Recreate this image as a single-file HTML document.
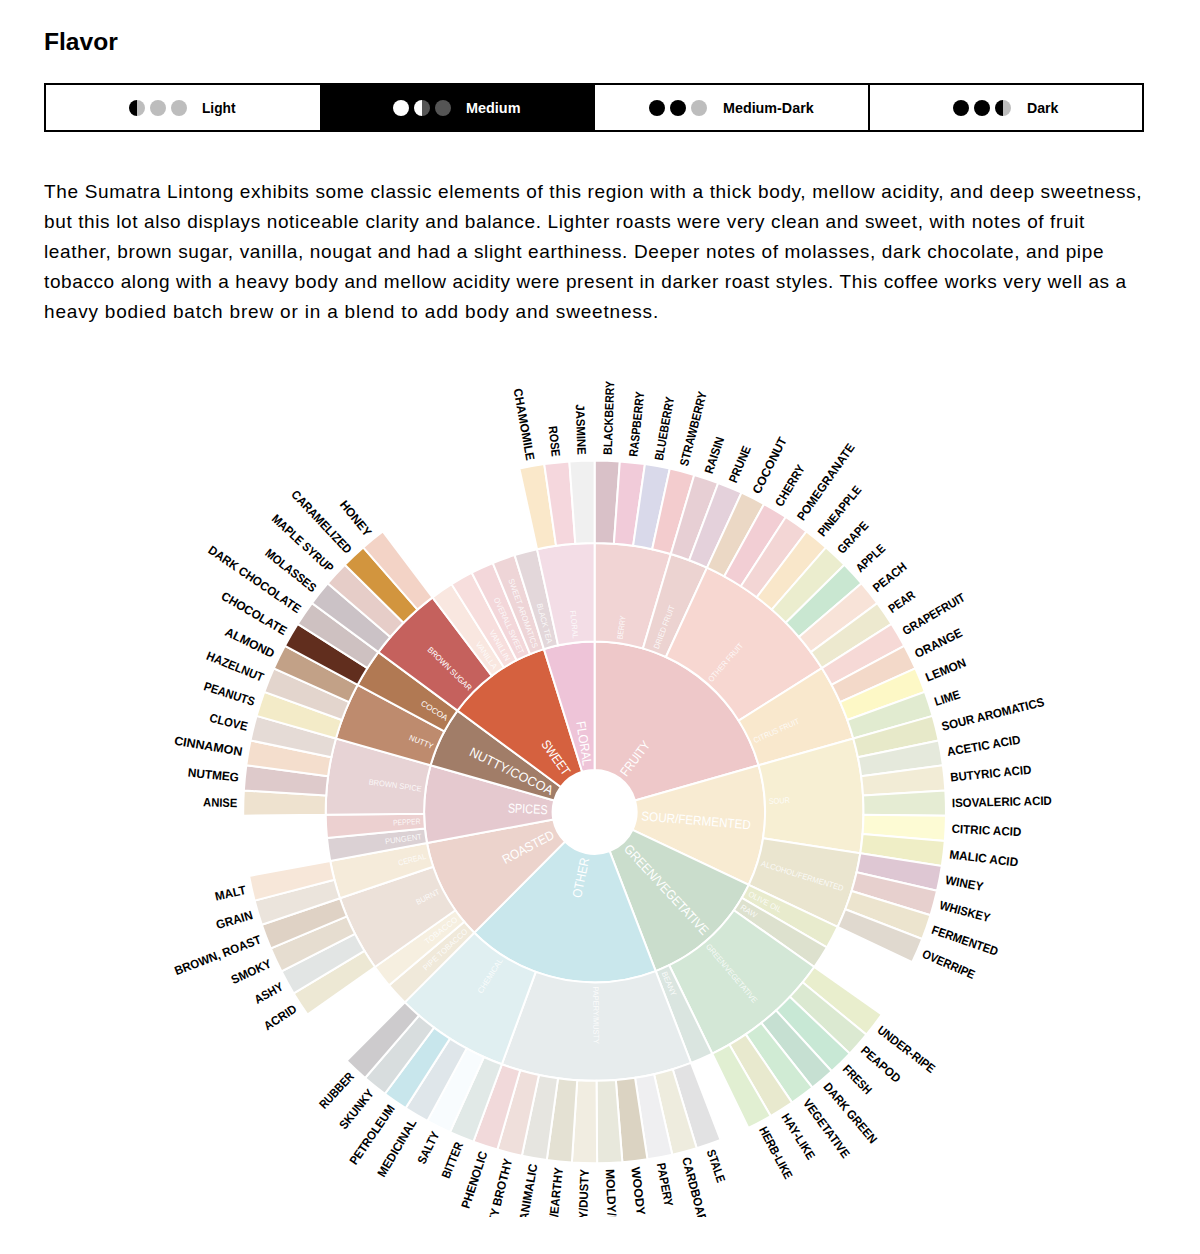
<!DOCTYPE html>
<html><head><meta charset="utf-8"><title>Flavor</title>
<style>
html,body{margin:0;padding:0;background:#fff;}
body{width:1200px;height:1254px;position:relative;overflow:hidden;font-family:"Liberation Sans",sans-serif;color:#000;}
h2{position:absolute;left:44px;top:26.7px;margin:0;font-size:24.6px;line-height:30px;font-weight:bold;letter-spacing:0;}
.tabs{position:absolute;left:44px;top:83px;width:1096px;height:44.5px;border:2px solid #000;}
i.dot{position:absolute;display:block;width:16px;height:16px;border-radius:50%;top:100px;}
.act{position:absolute;left:319.5px;top:83px;width:275.5px;height:48.5px;background:#000;}
.div{position:absolute;top:83px;width:2px;height:48.5px;background:#000;}
.lbl{position:absolute;top:99px;line-height:18px;font-weight:bold;font-size:14px;white-space:nowrap;transform-origin:0 50%;}
.para div{position:absolute;left:44px;font-size:19px;line-height:30px;height:30px;white-space:nowrap;}
.wheel{position:absolute;left:0;top:340px;overflow:hidden;}
</style></head><body>
<h2>Flavor</h2>
<div class="tabs"></div><i class="dot" style="left:129.00px;background:linear-gradient(90deg,#000 52%,#bdbdbd 52%)"></i><i class="dot" style="left:150.00px;background:#bdbdbd"></i><i class="dot" style="left:171.00px;background:#bdbdbd"></i><span class="lbl" style="left:202.30px;color:#000;transform:scaleX(0.9793)">Light</span><div class="act"></div><i class="dot" style="left:392.75px;background:#fff"></i><i class="dot" style="left:413.75px;background:linear-gradient(90deg,#fff 52%,#555 52%)"></i><i class="dot" style="left:434.75px;background:#555"></i><span class="lbl" style="left:465.80px;color:#fff;transform:scaleX(1.0304)">Medium</span><i class="dot" style="left:648.75px;background:#000"></i><i class="dot" style="left:669.75px;background:#000"></i><i class="dot" style="left:691.00px;background:#bdbdbd"></i><span class="lbl" style="left:722.80px;color:#000;transform:scaleX(1.0227)">Medium-Dark</span><i class="dot" style="left:952.50px;background:#000"></i><i class="dot" style="left:973.50px;background:#000"></i><i class="dot" style="left:994.75px;background:linear-gradient(90deg,#000 52%,#bdbdbd 52%)"></i><span class="lbl" style="left:1026.80px;color:#000;transform:scaleX(1.0118)">Dark</span><div class="div" style="left:868.25px"></div>
<div class="para"><div style="top:177.00px;letter-spacing:0.6556px">The Sumatra Lintong exhibits some classic elements of this region with a thick body, mellow acidity, and deep sweetness,</div><div style="top:207.00px;letter-spacing:0.6213px">but this lot also displays noticeable clarity and balance. Lighter roasts were very clean and sweet, with notes of fruit</div><div style="top:237.00px;letter-spacing:0.6381px">leather, brown sugar, vanilla, nougat and had a slight earthiness. Deeper notes of molasses, dark chocolate, and pipe</div><div style="top:267.00px;letter-spacing:0.6070px">tobacco along with a heavy body and mellow acidity were present in darker roast styles. This coffee works very well as a</div><div style="top:297.00px;letter-spacing:0.8126px">heavy bodied batch brew or in a blend to add body and sweetness.</div></div>
<svg class="wheel" width="1200" height="876.5" viewBox="0 0 1200 876.5"><g transform="translate(0 -340.0)" stroke="#fff" stroke-width="2.00" stroke-linejoin="miter"><path d="M594.60 769.90L594.60 641.40A170.50 170.50 0 0 1 758.61 765.31L635.00 800.42A42.00 42.00 0 0 0 594.60 769.90Z" fill="#eec8c9"/><path d="M594.60 641.40L594.60 543.00A268.90 268.90 0 0 1 670.86 554.04L642.96 648.40A170.50 170.50 0 0 0 594.60 641.40Z" fill="#f1d4d4"/><path d="M594.60 543.00L594.60 460.50A351.40 351.40 0 0 1 619.84 461.41L613.91 543.69A268.90 268.90 0 0 0 594.60 543.00Z" fill="#d9c1c8"/><path d="M613.91 543.69L619.84 461.41A351.40 351.40 0 0 1 644.95 464.13L633.13 545.77A268.90 268.90 0 0 0 613.91 543.69Z" fill="#f1cbd9"/><path d="M633.13 545.77L644.95 464.13A351.40 351.40 0 0 1 669.80 468.64L652.15 549.23A268.90 268.90 0 0 0 633.13 545.77Z" fill="#d9d9ea"/><path d="M652.15 549.23L669.80 468.64A351.40 351.40 0 0 1 694.26 474.93L670.86 554.04A268.90 268.90 0 0 0 652.15 549.23Z" fill="#f3ccce"/><path d="M642.96 648.40L670.86 554.04A268.90 268.90 0 0 1 707.02 567.63L665.88 657.02A170.50 170.50 0 0 0 642.96 648.40Z" fill="#ecd3d1"/><path d="M670.86 554.04L694.26 474.93A351.40 351.40 0 0 1 718.21 482.96L689.19 560.19A268.90 268.90 0 0 0 670.86 554.04Z" fill="#e7cfd4"/><path d="M689.19 560.19L718.21 482.96A351.40 351.40 0 0 1 741.52 492.69L707.02 567.63A268.90 268.90 0 0 0 689.19 560.19Z" fill="#e4d1db"/><path d="M665.88 657.02L707.02 567.63A268.90 268.90 0 0 1 821.81 668.08L738.66 720.71A170.50 170.50 0 0 0 665.88 657.02Z" fill="#f7d7d1"/><path d="M707.02 567.63L741.52 492.69A351.40 351.40 0 0 1 764.07 504.06L724.28 576.34A268.90 268.90 0 0 0 707.02 567.63Z" fill="#ebd8c5"/><path d="M724.28 576.34L764.07 504.06A351.40 351.40 0 0 1 785.74 517.03L740.86 586.26A268.90 268.90 0 0 0 724.28 576.34Z" fill="#f2ced4"/><path d="M740.86 586.26L785.74 517.03A351.40 351.40 0 0 1 806.43 531.52L756.69 597.35A268.90 268.90 0 0 0 740.86 586.26Z" fill="#f3d6d5"/><path d="M756.69 597.35L806.43 531.52A351.40 351.40 0 0 1 826.02 547.46L771.69 609.54A268.90 268.90 0 0 0 756.69 597.35Z" fill="#f9e7ca"/><path d="M771.69 609.54L826.02 547.46A351.40 351.40 0 0 1 844.41 564.77L785.76 622.79A268.90 268.90 0 0 0 771.69 609.54Z" fill="#ebedce"/><path d="M785.76 622.79L844.41 564.77A351.40 351.40 0 0 1 861.52 583.35L798.85 637.01A268.90 268.90 0 0 0 785.76 622.79Z" fill="#c9e7d1"/><path d="M798.85 637.01L861.52 583.35A351.40 351.40 0 0 1 877.25 603.11L810.89 652.13A268.90 268.90 0 0 0 798.85 637.01Z" fill="#f8e3d8"/><path d="M810.89 652.13L877.25 603.11A351.40 351.40 0 0 1 891.51 623.95L821.81 668.08A268.90 268.90 0 0 0 810.89 652.13Z" fill="#ede9cf"/><path d="M738.66 720.71L821.81 668.08A268.90 268.90 0 0 1 853.27 738.42L758.61 765.31A170.50 170.50 0 0 0 738.66 720.71Z" fill="#f9e8cd"/><path d="M821.81 668.08L891.51 623.95A351.40 351.40 0 0 1 904.25 645.76L831.55 684.77A268.90 268.90 0 0 0 821.81 668.08Z" fill="#f6d9d6"/><path d="M831.55 684.77L904.25 645.76A351.40 351.40 0 0 1 915.38 668.43L840.07 702.12A268.90 268.90 0 0 0 831.55 684.77Z" fill="#f3d9c9"/><path d="M840.07 702.12L915.38 668.43A351.40 351.40 0 0 1 924.86 691.85L847.32 720.03A268.90 268.90 0 0 0 840.07 702.12Z" fill="#fdf8c6"/><path d="M847.32 720.03L924.86 691.85A351.40 351.40 0 0 1 932.63 715.88L853.27 738.42A268.90 268.90 0 0 0 847.32 720.03Z" fill="#e1ebd0"/><path d="M635.00 800.42L758.61 765.31A170.50 170.50 0 0 1 748.71 884.85L632.56 829.87A42.00 42.00 0 0 0 635.00 800.42Z" fill="#f8ebd2"/><path d="M758.61 765.31L853.27 738.42A268.90 268.90 0 0 1 860.29 853.30L763.07 838.15A170.50 170.50 0 0 0 758.61 765.31Z" fill="#f7efd3"/><path d="M853.27 738.42L932.63 715.88A351.40 351.40 0 0 1 938.65 740.41L857.88 757.19A268.90 268.90 0 0 0 853.27 738.42Z" fill="#e7e9c9"/><path d="M857.88 757.19L938.65 740.41A351.40 351.40 0 0 1 942.90 765.30L861.13 776.24A268.90 268.90 0 0 0 857.88 757.19Z" fill="#e5e9dc"/><path d="M861.13 776.24L942.90 765.30A351.40 351.40 0 0 1 945.34 790.44L863.00 795.48A268.90 268.90 0 0 0 861.13 776.24Z" fill="#f2ecd6"/><path d="M863.00 795.48L945.34 790.44A351.40 351.40 0 0 1 945.98 815.69L863.48 814.80A268.90 268.90 0 0 0 863.00 795.48Z" fill="#e5ecd3"/><path d="M863.48 814.80L945.98 815.69A351.40 351.40 0 0 1 944.80 840.92L862.58 834.11A268.90 268.90 0 0 0 863.48 814.80Z" fill="#fdfbd4"/><path d="M862.58 834.11L944.80 840.92A351.40 351.40 0 0 1 941.81 866.00L860.29 853.30A268.90 268.90 0 0 0 862.58 834.11Z" fill="#efeec6"/><path d="M763.07 838.15L860.29 853.30A268.90 268.90 0 0 1 837.64 926.95L748.71 884.85A170.50 170.50 0 0 0 763.07 838.15Z" fill="#eae5cf"/><path d="M860.29 853.30L941.81 866.00A351.40 351.40 0 0 1 937.03 890.80L856.63 872.27A268.90 268.90 0 0 0 860.29 853.30Z" fill="#dec7d3"/><path d="M856.63 872.27L937.03 890.80A351.40 351.40 0 0 1 930.48 915.19L851.62 890.94A268.90 268.90 0 0 0 856.63 872.27Z" fill="#e7d0ce"/><path d="M851.62 890.94L930.48 915.19A351.40 351.40 0 0 1 922.19 939.05L845.28 909.20A268.90 268.90 0 0 0 851.62 890.94Z" fill="#ece4ce"/><path d="M845.28 909.20L922.19 939.05A351.40 351.40 0 0 1 912.21 962.25L837.64 926.95A268.90 268.90 0 0 0 845.28 909.20Z" fill="#e0d9cf"/><path d="M632.56 829.87L748.71 884.85A170.50 170.50 0 0 1 655.72 971.07L609.66 851.11A42.00 42.00 0 0 0 632.56 829.87Z" fill="#caddcc"/><path d="M748.71 884.85L837.64 926.95A268.90 268.90 0 0 1 826.83 947.46L741.85 897.86A170.50 170.50 0 0 0 748.71 884.85Z" fill="#e8ebcd"/><path d="M741.85 897.86L826.83 947.46A268.90 268.90 0 0 1 814.28 966.97L733.89 910.22A170.50 170.50 0 0 0 741.85 897.86Z" fill="#dde1ce"/><path d="M733.89 910.22L814.28 966.97A268.90 268.90 0 0 1 712.27 1053.69L669.21 965.21A170.50 170.50 0 0 0 733.89 910.22Z" fill="#d3e7d6"/><path d="M814.28 966.97L881.68 1014.55A351.40 351.40 0 0 1 866.39 1034.64L802.58 982.35A268.90 268.90 0 0 0 814.28 966.97Z" fill="#e9eecd"/><path d="M802.58 982.35L866.39 1034.64A351.40 351.40 0 0 1 849.68 1053.59L789.80 996.85A268.90 268.90 0 0 0 802.58 982.35Z" fill="#dbe9d1"/><path d="M789.80 996.85L849.68 1053.59A351.40 351.40 0 0 1 831.67 1071.29L776.01 1010.39A268.90 268.90 0 0 0 789.80 996.85Z" fill="#c8e8d5"/><path d="M776.01 1010.39L831.67 1071.29A351.40 351.40 0 0 1 812.42 1087.65L761.28 1022.91A268.90 268.90 0 0 0 776.01 1010.39Z" fill="#c6e0d2"/><path d="M761.28 1022.91L812.42 1087.65A351.40 351.40 0 0 1 792.05 1102.58L745.70 1034.33A268.90 268.90 0 0 0 761.28 1022.91Z" fill="#d0ebd4"/><path d="M745.70 1034.33L792.05 1102.58A351.40 351.40 0 0 1 770.66 1116.01L729.33 1044.61A268.90 268.90 0 0 0 745.70 1034.33Z" fill="#e8e9ce"/><path d="M729.33 1044.61L770.66 1116.01A351.40 351.40 0 0 1 748.37 1127.87L712.27 1053.69A268.90 268.90 0 0 0 729.33 1044.61Z" fill="#e1efd2"/><path d="M669.21 965.21L712.27 1053.69A268.90 268.90 0 0 1 691.00 1062.93L655.72 971.07A170.50 170.50 0 0 0 669.21 965.21Z" fill="#dae5e0"/><path d="M609.66 851.11L655.72 971.07A170.50 170.50 0 0 1 474.26 932.68L564.95 841.65A42.00 42.00 0 0 0 609.66 851.11Z" fill="#c9e7ec"/><path d="M655.72 971.07L691.00 1062.93A268.90 268.90 0 0 1 501.82 1064.29L535.77 971.93A170.50 170.50 0 0 0 655.72 971.07Z" fill="#e7eced"/><path d="M691.00 1062.93L720.57 1139.95A351.40 351.40 0 0 1 696.68 1148.15L672.72 1069.20A268.90 268.90 0 0 0 691.00 1062.93Z" fill="#e2e2e3"/><path d="M672.72 1069.20L696.68 1148.15A351.40 351.40 0 0 1 672.27 1154.61L654.03 1074.15A268.90 268.90 0 0 0 672.72 1069.20Z" fill="#eeecde"/><path d="M654.03 1074.15L672.27 1154.61A351.40 351.40 0 0 1 647.45 1159.30L635.04 1077.74A268.90 268.90 0 0 0 654.03 1074.15Z" fill="#efeff1"/><path d="M635.04 1077.74L647.45 1159.30A351.40 351.40 0 0 1 622.36 1162.20L615.84 1079.96A268.90 268.90 0 0 0 635.04 1077.74Z" fill="#dbd3c2"/><path d="M615.84 1079.96L622.36 1162.20A351.40 351.40 0 0 1 597.13 1163.29L596.53 1080.79A268.90 268.90 0 0 0 615.84 1079.96Z" fill="#e8e8dc"/><path d="M596.53 1080.79L597.13 1163.29A351.40 351.40 0 0 1 571.88 1162.56L577.21 1080.24A268.90 268.90 0 0 0 596.53 1080.79Z" fill="#f1ede1"/><path d="M577.21 1080.24L571.88 1162.56A351.40 351.40 0 0 1 546.75 1160.03L557.98 1078.30A268.90 268.90 0 0 0 577.21 1080.24Z" fill="#e4e1d3"/><path d="M557.98 1078.30L546.75 1160.03A351.40 351.40 0 0 1 521.87 1155.69L538.94 1074.98A268.90 268.90 0 0 0 557.98 1078.30Z" fill="#e6e5e0"/><path d="M538.94 1074.98L521.87 1155.69A351.40 351.40 0 0 1 497.36 1149.58L520.19 1070.30A268.90 268.90 0 0 0 538.94 1074.98Z" fill="#efdfdb"/><path d="M520.19 1070.30L497.36 1149.58A351.40 351.40 0 0 1 473.36 1141.72L501.82 1064.29A268.90 268.90 0 0 0 520.19 1070.30Z" fill="#f1d9da"/><path d="M535.77 971.93L501.82 1064.29A268.90 268.90 0 0 1 404.80 1002.38L474.26 932.68A170.50 170.50 0 0 0 535.77 971.93Z" fill="#e0eff1"/><path d="M501.82 1064.29L473.36 1141.72A351.40 351.40 0 0 1 449.98 1132.16L483.93 1056.97A268.90 268.90 0 0 0 501.82 1064.29Z" fill="#e1e9e7"/><path d="M483.93 1056.97L449.98 1132.16A351.40 351.40 0 0 1 427.35 1120.95L466.62 1048.39A268.90 268.90 0 0 0 483.93 1056.97Z" fill="#f8fcfe"/><path d="M466.62 1048.39L427.35 1120.95A351.40 351.40 0 0 1 405.59 1108.14L449.96 1038.59A268.90 268.90 0 0 0 466.62 1048.39Z" fill="#dfe6ea"/><path d="M449.96 1038.59L405.59 1108.14A351.40 351.40 0 0 1 384.80 1093.79L434.05 1027.61A268.90 268.90 0 0 0 449.96 1038.59Z" fill="#c8e6ec"/><path d="M434.05 1027.61L384.80 1093.79A351.40 351.40 0 0 1 365.09 1078.00L418.97 1015.52A268.90 268.90 0 0 0 434.05 1027.61Z" fill="#d8ddde"/><path d="M418.97 1015.52L365.09 1078.00A351.40 351.40 0 0 1 346.57 1060.82L404.80 1002.38A268.90 268.90 0 0 0 418.97 1015.52Z" fill="#cdcbcd"/><path d="M564.95 841.65L474.26 932.68A170.50 170.50 0 0 1 426.96 842.98L553.30 819.56A42.00 42.00 0 0 0 564.95 841.65Z" fill="#ecd3cc"/><path d="M474.26 932.68L404.80 1002.38A268.90 268.90 0 0 1 389.09 985.32L464.30 921.86A170.50 170.50 0 0 0 474.26 932.68Z" fill="#f0e9da"/><path d="M464.30 921.86L389.09 985.32A268.90 268.90 0 0 1 374.92 966.97L455.31 910.22A170.50 170.50 0 0 0 464.30 921.86Z" fill="#f6efe0"/><path d="M455.31 910.22L374.92 966.97A268.90 268.90 0 0 1 339.96 898.30L433.14 866.68A170.50 170.50 0 0 0 455.31 910.22Z" fill="#ece1d9"/><path d="M374.92 966.97L307.52 1014.55A351.40 351.40 0 0 1 293.70 993.40L364.35 950.79A268.90 268.90 0 0 0 374.92 966.97Z" fill="#ede8d4"/><path d="M364.35 950.79L293.70 993.40A351.40 351.40 0 0 1 281.44 971.32L354.96 933.89A268.90 268.90 0 0 0 364.35 950.79Z" fill="#e2e5e4"/><path d="M354.96 933.89L281.44 971.32A351.40 351.40 0 0 1 270.80 948.41L346.82 916.36A268.90 268.90 0 0 0 354.96 933.89Z" fill="#e6ddd0"/><path d="M346.82 916.36L270.80 948.41A351.40 351.40 0 0 1 261.83 924.80L339.96 898.30A268.90 268.90 0 0 0 346.82 916.36Z" fill="#dfd2c5"/><path d="M433.14 866.68L339.96 898.30A268.90 268.90 0 0 1 330.21 860.92L426.96 842.98A170.50 170.50 0 0 0 433.14 866.68Z" fill="#f5ebda"/><path d="M339.96 898.30L261.83 924.80A351.40 351.40 0 0 1 254.58 900.61L334.41 879.78A268.90 268.90 0 0 0 339.96 898.30Z" fill="#ebe4dc"/><path d="M334.41 879.78L254.58 900.61A351.40 351.40 0 0 1 249.09 875.96L330.21 860.92A268.90 268.90 0 0 0 334.41 879.78Z" fill="#f7e7d9"/><path d="M553.30 819.56L426.96 842.98A170.50 170.50 0 0 1 430.59 765.31L554.20 800.42A42.00 42.00 0 0 0 553.30 819.56Z" fill="#e5c9cf"/><path d="M426.96 842.98L330.21 860.92A268.90 268.90 0 0 1 326.97 837.96L424.90 828.42A170.50 170.50 0 0 0 426.96 842.98Z" fill="#dbd1d4"/><path d="M424.90 828.42L326.97 837.96A268.90 268.90 0 0 1 325.72 814.80L424.11 813.74A170.50 170.50 0 0 0 424.90 828.42Z" fill="#ecd0d0"/><path d="M424.11 813.74L325.72 814.80A268.90 268.90 0 0 1 335.93 738.42L430.59 765.31A170.50 170.50 0 0 0 424.11 813.74Z" fill="#e7d3d5"/><path d="M325.72 814.80L243.22 815.69A351.40 351.40 0 0 1 243.86 790.44L326.20 795.48A268.90 268.90 0 0 0 325.72 814.80Z" fill="#eee2cf"/><path d="M326.20 795.48L243.86 790.44A351.40 351.40 0 0 1 246.30 765.30L328.07 776.24A268.90 268.90 0 0 0 326.20 795.48Z" fill="#decacb"/><path d="M328.07 776.24L246.30 765.30A351.40 351.40 0 0 1 250.55 740.41L331.32 757.19A268.90 268.90 0 0 0 328.07 776.24Z" fill="#f4decd"/><path d="M331.32 757.19L250.55 740.41A351.40 351.40 0 0 1 256.57 715.88L335.93 738.42A268.90 268.90 0 0 0 331.32 757.19Z" fill="#e5dbd6"/><path d="M554.20 800.42L430.59 765.31A170.50 170.50 0 0 1 457.46 710.59L560.82 786.95A42.00 42.00 0 0 0 554.20 800.42Z" fill="#a17d68"/><path d="M430.59 765.31L335.93 738.42A268.90 268.90 0 0 1 357.65 684.77L444.36 731.29A170.50 170.50 0 0 0 430.59 765.31Z" fill="#be8b6e"/><path d="M335.93 738.42L256.57 715.88A351.40 351.40 0 0 1 264.34 691.85L341.88 720.03A268.90 268.90 0 0 0 335.93 738.42Z" fill="#f3ebc8"/><path d="M341.88 720.03L264.34 691.85A351.40 351.40 0 0 1 273.82 668.43L349.13 702.12A268.90 268.90 0 0 0 341.88 720.03Z" fill="#e3d5cd"/><path d="M349.13 702.12L273.82 668.43A351.40 351.40 0 0 1 284.95 645.76L357.65 684.77A268.90 268.90 0 0 0 349.13 702.12Z" fill="#c2a187"/><path d="M444.36 731.29L357.65 684.77A268.90 268.90 0 0 1 378.31 652.13L457.46 710.59A170.50 170.50 0 0 0 444.36 731.29Z" fill="#b17953"/><path d="M357.65 684.77L284.95 645.76A351.40 351.40 0 0 1 297.69 623.95L367.39 668.08A268.90 268.90 0 0 0 357.65 684.77Z" fill="#612e1e"/><path d="M367.39 668.08L297.69 623.95A351.40 351.40 0 0 1 311.95 603.11L378.31 652.13A268.90 268.90 0 0 0 367.39 668.08Z" fill="#cec1c1"/><path d="M560.82 786.95L457.46 710.59A170.50 170.50 0 0 1 543.90 649.11L582.11 771.80A42.00 42.00 0 0 0 560.82 786.95Z" fill="#d5613f"/><path d="M457.46 710.59L378.31 652.13A268.90 268.90 0 0 1 432.51 597.35L491.82 675.86A170.50 170.50 0 0 0 457.46 710.59Z" fill="#c5615d"/><path d="M378.31 652.13L311.95 603.11A351.40 351.40 0 0 1 327.68 583.35L390.35 637.01A268.90 268.90 0 0 0 378.31 652.13Z" fill="#cbc2c6"/><path d="M390.35 637.01L327.68 583.35A351.40 351.40 0 0 1 344.79 564.77L403.44 622.79A268.90 268.90 0 0 0 390.35 637.01Z" fill="#e6cdc8"/><path d="M403.44 622.79L344.79 564.77A351.40 351.40 0 0 1 363.18 547.46L417.51 609.54A268.90 268.90 0 0 0 403.44 622.79Z" fill="#d2953e"/><path d="M417.51 609.54L363.18 547.46A351.40 351.40 0 0 1 382.77 531.52L432.51 597.35A268.90 268.90 0 0 0 417.51 609.54Z" fill="#f3d3c6"/><path d="M491.82 675.86L432.51 597.35A268.90 268.90 0 0 1 451.60 584.18L503.93 667.51A170.50 170.50 0 0 0 491.82 675.86Z" fill="#f9e7e0"/><path d="M503.93 667.51L451.60 584.18A268.90 268.90 0 0 1 471.75 572.70L516.70 660.23A170.50 170.50 0 0 0 503.93 667.51Z" fill="#f7dedd"/><path d="M516.70 660.23L471.75 572.70A268.90 268.90 0 0 1 492.81 563.01L530.06 654.09A170.50 170.50 0 0 0 516.70 660.23Z" fill="#f3d7da"/><path d="M530.06 654.09L492.81 563.01A268.90 268.90 0 0 1 514.64 555.16L543.90 649.11A170.50 170.50 0 0 0 530.06 654.09Z" fill="#eed5d7"/><path d="M582.11 771.80L543.90 649.11A170.50 170.50 0 0 1 594.60 641.40L594.60 769.90A42.00 42.00 0 0 0 582.11 771.80Z" fill="#eec4d8"/><path d="M543.90 649.11L514.64 555.16A268.90 268.90 0 0 1 537.05 549.23L558.11 645.35A170.50 170.50 0 0 0 543.90 649.11Z" fill="#e3d7da"/><path d="M558.11 645.35L537.05 549.23A268.90 268.90 0 0 1 594.60 543.00L594.60 641.40A170.50 170.50 0 0 0 558.11 645.35Z" fill="#f3dde6"/><path d="M537.05 549.23L519.40 468.64A351.40 351.40 0 0 1 544.25 464.13L556.07 545.77A268.90 268.90 0 0 0 537.05 549.23Z" fill="#fae8ca"/><path d="M556.07 545.77L544.25 464.13A351.40 351.40 0 0 1 569.36 461.41L575.29 543.69A268.90 268.90 0 0 0 556.07 545.77Z" fill="#f5d7dd"/><path d="M575.29 543.69L569.36 461.41A351.40 351.40 0 0 1 594.60 460.50L594.60 543.00A268.90 268.90 0 0 0 575.29 543.69Z" fill="#f0f0f0"/></g><g font-family="'Liberation Sans', sans-serif"><text transform="translate(594.60 471.90) rotate(-52.929) translate(47.00 0) scale(0.856 1)" text-anchor="start" font-size="13.00" fill="#fff" font-weight="normal" dy="0.35em">FRUITY</text><text transform="translate(594.60 471.90) rotate(-81.762) translate(174.50 0) scale(0.865 1)" text-anchor="start" font-size="8.00" fill="#fff" font-weight="normal" dy="0.35em" opacity="0.85">BERRY</text><text transform="translate(594.60 471.90) rotate(-87.941) translate(357.40 0) scale(0.870 1)" text-anchor="start" font-size="12.20" fill="#000" font-weight="bold" dy="0.35em">BLACKBERRY</text><text transform="translate(594.60 471.90) rotate(-83.822) translate(357.40 0) scale(0.858 1)" text-anchor="start" font-size="12.20" fill="#000" font-weight="bold" dy="0.35em">RASPBERRY</text><text transform="translate(594.60 471.90) rotate(-79.703) translate(357.40 0) scale(0.853 1)" text-anchor="start" font-size="12.20" fill="#000" font-weight="bold" dy="0.35em">BLUEBERRY</text><text transform="translate(594.60 471.90) rotate(-75.584) translate(357.40 0) scale(0.888 1)" text-anchor="start" font-size="12.20" fill="#000" font-weight="bold" dy="0.35em">STRAWBERRY</text><text transform="translate(594.60 471.90) rotate(-69.405) translate(174.50 0) scale(0.907 1)" text-anchor="start" font-size="8.00" fill="#fff" font-weight="normal" dy="0.35em" opacity="0.85">DRIED FRUIT</text><text transform="translate(594.60 471.90) rotate(-71.465) translate(357.40 0) scale(0.912 1)" text-anchor="start" font-size="12.20" fill="#000" font-weight="bold" dy="0.35em">RAISIN</text><text transform="translate(594.60 471.90) rotate(-67.346) translate(357.40 0) scale(0.905 1)" text-anchor="start" font-size="12.20" fill="#000" font-weight="bold" dy="0.35em">PRUNE</text><text transform="translate(594.60 471.90) rotate(-48.810) translate(174.50 0) scale(0.904 1)" text-anchor="start" font-size="8.00" fill="#fff" font-weight="normal" dy="0.35em" opacity="0.85">OTHER FRUIT</text><text transform="translate(594.60 471.90) rotate(-63.227) translate(357.40 0) scale(1.000 1)" text-anchor="start" font-size="12.20" fill="#000" font-weight="bold" dy="0.35em">COCONUT</text><text transform="translate(594.60 471.90) rotate(-59.108) translate(357.40 0) scale(0.898 1)" text-anchor="start" font-size="12.20" fill="#000" font-weight="bold" dy="0.35em">CHERRY</text><text transform="translate(594.60 471.90) rotate(-54.989) translate(357.40 0) scale(0.953 1)" text-anchor="start" font-size="12.20" fill="#000" font-weight="bold" dy="0.35em">POMEGRANATE</text><text transform="translate(594.60 471.90) rotate(-50.870) translate(357.40 0) scale(0.882 1)" text-anchor="start" font-size="12.20" fill="#000" font-weight="bold" dy="0.35em">PINEAPPLE</text><text transform="translate(594.60 471.90) rotate(-46.751) translate(357.40 0) scale(0.896 1)" text-anchor="start" font-size="12.20" fill="#000" font-weight="bold" dy="0.35em">GRAPE</text><text transform="translate(594.60 471.90) rotate(-42.632) translate(357.40 0) scale(0.855 1)" text-anchor="start" font-size="12.20" fill="#000" font-weight="bold" dy="0.35em">APPLE</text><text transform="translate(594.60 471.90) rotate(-38.513) translate(357.40 0) scale(0.920 1)" text-anchor="start" font-size="12.20" fill="#000" font-weight="bold" dy="0.35em">PEACH</text><text transform="translate(594.60 471.90) rotate(-34.394) translate(357.40 0) scale(0.867 1)" text-anchor="start" font-size="12.20" fill="#000" font-weight="bold" dy="0.35em">PEAR</text><text transform="translate(594.60 471.90) rotate(-24.096) translate(174.50 0) scale(0.888 1)" text-anchor="start" font-size="8.00" fill="#fff" font-weight="normal" dy="0.35em" opacity="0.85">CITRUS FRUIT</text><text transform="translate(594.60 471.90) rotate(-30.275) translate(357.40 0) scale(0.886 1)" text-anchor="start" font-size="12.20" fill="#000" font-weight="bold" dy="0.35em">GRAPEFRUIT</text><text transform="translate(594.60 471.90) rotate(-26.156) translate(357.40 0) scale(0.958 1)" text-anchor="start" font-size="12.20" fill="#000" font-weight="bold" dy="0.35em">ORANGE</text><text transform="translate(594.60 471.90) rotate(-22.037) translate(357.40 0) scale(0.969 1)" text-anchor="start" font-size="12.20" fill="#000" font-weight="bold" dy="0.35em">LEMON</text><text transform="translate(594.60 471.90) rotate(-17.918) translate(357.40 0) scale(0.907 1)" text-anchor="start" font-size="12.20" fill="#000" font-weight="bold" dy="0.35em">LIME</text><text transform="translate(594.60 471.90) rotate(4.737) translate(47.00 0) scale(0.899 1)" text-anchor="start" font-size="13.00" fill="#fff" font-weight="normal" dy="0.35em">SOUR/FERMENTED</text><text transform="translate(594.60 471.90) rotate(-3.501) translate(174.50 0) scale(0.917 1)" text-anchor="start" font-size="8.00" fill="#fff" font-weight="normal" dy="0.35em" opacity="0.85">SOUR</text><text transform="translate(594.60 471.90) rotate(-13.799) translate(357.40 0) scale(0.949 1)" text-anchor="start" font-size="12.20" fill="#000" font-weight="bold" dy="0.35em">SOUR AROMATICS</text><text transform="translate(594.60 471.90) rotate(-9.680) translate(357.40 0) scale(0.954 1)" text-anchor="start" font-size="12.20" fill="#000" font-weight="bold" dy="0.35em">ACETIC ACID</text><text transform="translate(594.60 471.90) rotate(-5.561) translate(357.40 0) scale(0.935 1)" text-anchor="start" font-size="12.20" fill="#000" font-weight="bold" dy="0.35em">BUTYRIC ACID</text><text transform="translate(594.60 471.90) rotate(-1.442) translate(357.40 0) scale(0.939 1)" text-anchor="start" font-size="12.20" fill="#000" font-weight="bold" dy="0.35em">ISOVALERIC ACID</text><text transform="translate(594.60 471.90) rotate(2.677) translate(357.40 0) scale(0.951 1)" text-anchor="start" font-size="12.20" fill="#000" font-weight="bold" dy="0.35em">CITRIC ACID</text><text transform="translate(594.60 471.90) rotate(6.796) translate(357.40 0) scale(0.969 1)" text-anchor="start" font-size="12.20" fill="#000" font-weight="bold" dy="0.35em">MALIC ACID</text><text transform="translate(594.60 471.90) rotate(17.094) translate(174.50 0) scale(0.952 1)" text-anchor="start" font-size="8.00" fill="#fff" font-weight="normal" dy="0.35em" opacity="0.85">ALCOHOL/FERMENTED</text><text transform="translate(594.60 471.90) rotate(10.915) translate(357.40 0) scale(0.960 1)" text-anchor="start" font-size="12.20" fill="#000" font-weight="bold" dy="0.35em">WINEY</text><text transform="translate(594.60 471.90) rotate(15.034) translate(357.40 0) scale(0.913 1)" text-anchor="start" font-size="12.20" fill="#000" font-weight="bold" dy="0.35em">WHISKEY</text><text transform="translate(594.60 471.90) rotate(19.153) translate(357.40 0) scale(0.914 1)" text-anchor="start" font-size="12.20" fill="#000" font-weight="bold" dy="0.35em">FERMENTED</text><text transform="translate(594.60 471.90) rotate(23.272) translate(357.40 0) scale(0.889 1)" text-anchor="start" font-size="12.20" fill="#000" font-weight="bold" dy="0.35em">OVERRIPE</text><text transform="translate(594.60 471.90) rotate(47.162) translate(47.00 0) scale(0.909 1)" text-anchor="start" font-size="13.00" fill="#fff" font-weight="normal" dy="0.35em">GREEN/VEGETATIVE</text><text transform="translate(594.60 471.90) rotate(27.803) translate(174.50 0) scale(0.946 1)" text-anchor="start" font-size="8.00" fill="#fff" font-weight="normal" dy="0.35em" opacity="0.85">OLIVE OIL</text><text transform="translate(594.60 471.90) rotate(32.746) translate(174.50 0) scale(0.976 1)" text-anchor="start" font-size="8.00" fill="#fff" font-weight="normal" dy="0.35em" opacity="0.85">RAW</text><text transform="translate(594.60 471.90) rotate(49.634) translate(174.50 0) scale(0.937 1)" text-anchor="start" font-size="8.00" fill="#fff" font-weight="normal" dy="0.35em" opacity="0.85">GREEN/VEGETATIVE</text><text transform="translate(594.60 471.90) rotate(37.277) translate(357.40 0) scale(0.908 1)" text-anchor="start" font-size="12.20" fill="#000" font-weight="bold" dy="0.35em">UNDER-RIPE</text><text transform="translate(594.60 471.90) rotate(41.396) translate(357.40 0) scale(0.938 1)" text-anchor="start" font-size="12.20" fill="#000" font-weight="bold" dy="0.35em">PEAPOD</text><text transform="translate(594.60 471.90) rotate(45.515) translate(357.40 0) scale(0.852 1)" text-anchor="start" font-size="12.20" fill="#000" font-weight="bold" dy="0.35em">FRESH</text><text transform="translate(594.60 471.90) rotate(49.634) translate(357.40 0) scale(0.918 1)" text-anchor="start" font-size="12.20" fill="#000" font-weight="bold" dy="0.35em">DARK GREEN</text><text transform="translate(594.60 471.90) rotate(53.753) translate(357.40 0) scale(0.925 1)" text-anchor="start" font-size="12.20" fill="#000" font-weight="bold" dy="0.35em">VEGETATIVE</text><text transform="translate(594.60 471.90) rotate(57.872) translate(357.40 0) scale(0.927 1)" text-anchor="start" font-size="12.20" fill="#000" font-weight="bold" dy="0.35em">HAY-LIKE</text><text transform="translate(594.60 471.90) rotate(61.991) translate(357.40 0) scale(0.864 1)" text-anchor="start" font-size="12.20" fill="#000" font-weight="bold" dy="0.35em">HERB-LIKE</text><text transform="translate(594.60 471.90) rotate(66.522) translate(174.50 0) scale(0.950 1)" text-anchor="start" font-size="8.00" fill="#fff" font-weight="normal" dy="0.35em" opacity="0.85">BEANY</text><text transform="translate(594.60 471.90) rotate(101.945) translate(47.00 0) rotate(180) scale(0.893 1)" text-anchor="end" font-size="13.00" fill="#fff" font-weight="normal" dy="0.35em">OTHER</text><text transform="translate(594.60 471.90) rotate(89.588) translate(174.50 0) scale(0.933 1)" text-anchor="start" font-size="8.00" fill="#fff" font-weight="normal" dy="0.35em" opacity="0.85">PAPERY/MUSTY</text><text transform="translate(594.60 471.90) rotate(71.053) translate(357.40 0) scale(0.867 1)" text-anchor="start" font-size="12.20" fill="#000" font-weight="bold" dy="0.35em">STALE</text><text transform="translate(594.60 471.90) rotate(75.172) translate(357.40 0) scale(0.943 1)" text-anchor="start" font-size="12.20" fill="#000" font-weight="bold" dy="0.35em">CARDBOARD</text><text transform="translate(594.60 471.90) rotate(79.291) translate(357.40 0) scale(0.898 1)" text-anchor="start" font-size="12.20" fill="#000" font-weight="bold" dy="0.35em">PAPERY</text><text transform="translate(594.60 471.90) rotate(83.410) translate(357.40 0) scale(1.023 1)" text-anchor="start" font-size="12.20" fill="#000" font-weight="bold" dy="0.35em">WOODY</text><text transform="translate(594.60 471.90) rotate(87.529) translate(357.40 0) scale(0.994 1)" text-anchor="start" font-size="12.20" fill="#000" font-weight="bold" dy="0.35em">MOLDY/DAMP</text><text transform="translate(594.60 471.90) rotate(91.648) translate(357.40 0) rotate(180) scale(0.940 1)" text-anchor="end" font-size="12.20" fill="#000" font-weight="bold" dy="0.35em">MUSTY/DUSTY</text><text transform="translate(594.60 471.90) rotate(95.767) translate(357.40 0) rotate(180) scale(0.927 1)" text-anchor="end" font-size="12.20" fill="#000" font-weight="bold" dy="0.35em">MUSTY/EARTHY</text><text transform="translate(594.60 471.90) rotate(99.886) translate(357.40 0) rotate(180) scale(0.962 1)" text-anchor="end" font-size="12.20" fill="#000" font-weight="bold" dy="0.35em">ANIMALIC</text><text transform="translate(594.60 471.90) rotate(104.005) translate(357.40 0) rotate(180) scale(0.942 1)" text-anchor="end" font-size="12.20" fill="#000" font-weight="bold" dy="0.35em">MEATY BROTHY</text><text transform="translate(594.60 471.90) rotate(108.124) translate(357.40 0) rotate(180) scale(0.939 1)" text-anchor="end" font-size="12.20" fill="#000" font-weight="bold" dy="0.35em">PHENOLIC</text><text transform="translate(594.60 471.90) rotate(122.540) translate(174.50 0) rotate(180) scale(0.960 1)" text-anchor="end" font-size="8.00" fill="#fff" font-weight="normal" dy="0.35em" opacity="0.85">CHEMICAL</text><text transform="translate(594.60 471.90) rotate(112.243) translate(357.40 0) rotate(180) scale(0.857 1)" text-anchor="end" font-size="12.20" fill="#000" font-weight="bold" dy="0.35em">BITTER</text><text transform="translate(594.60 471.90) rotate(116.362) translate(357.40 0) rotate(180) scale(0.884 1)" text-anchor="end" font-size="12.20" fill="#000" font-weight="bold" dy="0.35em">SALTY</text><text transform="translate(594.60 471.90) rotate(120.481) translate(357.40 0) rotate(180) scale(0.957 1)" text-anchor="end" font-size="12.20" fill="#000" font-weight="bold" dy="0.35em">MEDICINAL</text><text transform="translate(594.60 471.90) rotate(124.600) translate(357.40 0) rotate(180) scale(0.906 1)" text-anchor="end" font-size="12.20" fill="#000" font-weight="bold" dy="0.35em">PETROLEUM</text><text transform="translate(594.60 471.90) rotate(128.719) translate(357.40 0) rotate(180) scale(0.912 1)" text-anchor="end" font-size="12.20" fill="#000" font-weight="bold" dy="0.35em">SKUNKY</text><text transform="translate(594.60 471.90) rotate(132.838) translate(357.40 0) rotate(180) scale(0.853 1)" text-anchor="end" font-size="12.20" fill="#000" font-weight="bold" dy="0.35em">RUBBER</text><text transform="translate(594.60 471.90) rotate(152.197) translate(47.00 0) rotate(180) scale(0.899 1)" text-anchor="end" font-size="13.00" fill="#fff" font-weight="normal" dy="0.35em">ROASTED</text><text transform="translate(594.60 471.90) rotate(137.368) translate(174.50 0) rotate(180) scale(0.958 1)" text-anchor="end" font-size="8.00" fill="#fff" font-weight="normal" dy="0.35em" opacity="0.85">PIPE TOBACCO</text><text transform="translate(594.60 471.90) rotate(142.311) translate(174.50 0) rotate(180) scale(0.996 1)" text-anchor="end" font-size="8.00" fill="#fff" font-weight="normal" dy="0.35em" opacity="0.85">TOBACCO</text><text transform="translate(594.60 471.90) rotate(153.021) translate(174.50 0) rotate(180) scale(0.925 1)" text-anchor="end" font-size="8.00" fill="#fff" font-weight="normal" dy="0.35em" opacity="0.85">BURNT</text><text transform="translate(594.60 471.90) rotate(146.842) translate(357.40 0) rotate(180) scale(0.941 1)" text-anchor="end" font-size="12.20" fill="#000" font-weight="bold" dy="0.35em">ACRID</text><text transform="translate(594.60 471.90) rotate(150.961) translate(357.40 0) rotate(180) scale(0.913 1)" text-anchor="end" font-size="12.20" fill="#000" font-weight="bold" dy="0.35em">ASHY</text><text transform="translate(594.60 471.90) rotate(155.080) translate(357.40 0) rotate(180) scale(0.954 1)" text-anchor="end" font-size="12.20" fill="#000" font-weight="bold" dy="0.35em">SMOKY</text><text transform="translate(594.60 471.90) rotate(159.199) translate(357.40 0) rotate(180) scale(0.945 1)" text-anchor="end" font-size="12.20" fill="#000" font-weight="bold" dy="0.35em">BROWN, ROAST</text><text transform="translate(594.60 471.90) rotate(165.378) translate(174.50 0) rotate(180) scale(0.889 1)" text-anchor="end" font-size="8.00" fill="#fff" font-weight="normal" dy="0.35em" opacity="0.85">CEREAL</text><text transform="translate(594.60 471.90) rotate(163.318) translate(357.40 0) rotate(180) scale(0.954 1)" text-anchor="end" font-size="12.20" fill="#000" font-weight="bold" dy="0.35em">GRAIN</text><text transform="translate(594.60 471.90) rotate(167.437) translate(357.40 0) rotate(180) scale(0.952 1)" text-anchor="end" font-size="12.20" fill="#000" font-weight="bold" dy="0.35em">MALT</text><text transform="translate(594.60 471.90) rotate(182.677) translate(47.00 0) rotate(180) scale(0.837 1)" text-anchor="end" font-size="13.00" fill="#fff" font-weight="normal" dy="0.35em">SPICES</text><text transform="translate(594.60 471.90) rotate(171.968) translate(174.50 0) rotate(180) scale(0.951 1)" text-anchor="end" font-size="8.00" fill="#fff" font-weight="normal" dy="0.35em" opacity="0.85">PUNGENT</text><text transform="translate(594.60 471.90) rotate(176.911) translate(174.50 0) rotate(180) scale(0.845 1)" text-anchor="end" font-size="8.00" fill="#fff" font-weight="normal" dy="0.35em" opacity="0.85">PEPPER</text><text transform="translate(594.60 471.90) rotate(187.620) translate(174.50 0) rotate(180) scale(0.938 1)" text-anchor="end" font-size="8.00" fill="#fff" font-weight="normal" dy="0.35em" opacity="0.85">BROWN SPICE</text><text transform="translate(594.60 471.90) rotate(181.442) translate(357.40 0) rotate(180) scale(0.915 1)" text-anchor="end" font-size="12.20" fill="#000" font-weight="bold" dy="0.35em">ANISE</text><text transform="translate(594.60 471.90) rotate(185.561) translate(357.40 0) rotate(180) scale(0.970 1)" text-anchor="end" font-size="12.20" fill="#000" font-weight="bold" dy="0.35em">NUTMEG</text><text transform="translate(594.60 471.90) rotate(189.680) translate(357.40 0) rotate(180) scale(1.027 1)" text-anchor="end" font-size="12.20" fill="#000" font-weight="bold" dy="0.35em">CINNAMON</text><text transform="translate(594.60 471.90) rotate(193.799) translate(357.40 0) rotate(180) scale(0.925 1)" text-anchor="end" font-size="12.20" fill="#000" font-weight="bold" dy="0.35em">CLOVE</text><text transform="translate(594.60 471.90) rotate(206.156) translate(47.00 0) rotate(180) scale(0.967 1)" text-anchor="end" font-size="13.00" fill="#fff" font-weight="normal" dy="0.35em">NUTTY/COCOA</text><text transform="translate(594.60 471.90) rotate(202.037) translate(174.50 0) rotate(180) scale(0.939 1)" text-anchor="end" font-size="8.00" fill="#fff" font-weight="normal" dy="0.35em">NUTTY</text><text transform="translate(594.60 471.90) rotate(197.918) translate(357.40 0) rotate(180) scale(0.907 1)" text-anchor="end" font-size="12.20" fill="#000" font-weight="bold" dy="0.35em">PEANUTS</text><text transform="translate(594.60 471.90) rotate(202.037) translate(357.40 0) rotate(180) scale(0.921 1)" text-anchor="end" font-size="12.20" fill="#000" font-weight="bold" dy="0.35em">HAZELNUT</text><text transform="translate(594.60 471.90) rotate(206.156) translate(357.40 0) rotate(180) scale(0.996 1)" text-anchor="end" font-size="12.20" fill="#000" font-weight="bold" dy="0.35em">ALMOND</text><text transform="translate(594.60 471.90) rotate(212.334) translate(174.50 0) rotate(180) scale(1.025 1)" text-anchor="end" font-size="8.00" fill="#fff" font-weight="normal" dy="0.35em">COCOA</text><text transform="translate(594.60 471.90) rotate(210.275) translate(357.40 0) rotate(180) scale(0.962 1)" text-anchor="end" font-size="12.20" fill="#000" font-weight="bold" dy="0.35em">CHOCOLATE</text><text transform="translate(594.60 471.90) rotate(214.394) translate(357.40 0) rotate(180) scale(0.949 1)" text-anchor="end" font-size="12.20" fill="#000" font-weight="bold" dy="0.35em">DARK CHOCOLATE</text><text transform="translate(594.60 471.90) rotate(234.577) translate(47.00 0) rotate(180) scale(0.859 1)" text-anchor="end" font-size="13.00" fill="#fff" font-weight="normal" dy="0.35em">SWEET</text><text transform="translate(594.60 471.90) rotate(224.691) translate(174.50 0) rotate(180) scale(0.954 1)" text-anchor="end" font-size="8.00" fill="#fff" font-weight="normal" dy="0.35em">BROWN SUGAR</text><text transform="translate(594.60 471.90) rotate(218.513) translate(357.40 0) rotate(180) scale(0.898 1)" text-anchor="end" font-size="12.20" fill="#000" font-weight="bold" dy="0.35em">MOLASSES</text><text transform="translate(594.60 471.90) rotate(222.632) translate(357.40 0) rotate(180) scale(0.893 1)" text-anchor="end" font-size="12.20" fill="#000" font-weight="bold" dy="0.35em">MAPLE SYRUP</text><text transform="translate(594.60 471.90) rotate(226.751) translate(357.40 0) rotate(180) scale(0.921 1)" text-anchor="end" font-size="12.20" fill="#000" font-weight="bold" dy="0.35em">CARAMELIZED</text><text transform="translate(594.60 471.90) rotate(230.870) translate(357.40 0) rotate(180) scale(0.973 1)" text-anchor="end" font-size="12.20" fill="#000" font-weight="bold" dy="0.35em">HONEY</text><text transform="translate(594.60 471.90) rotate(235.400) translate(174.50 0) rotate(180) scale(0.976 1)" text-anchor="end" font-size="8.00" fill="#fff" font-weight="normal" dy="0.35em" opacity="0.85">VANILLA</text><text transform="translate(594.60 471.90) rotate(240.343) translate(174.50 0) rotate(180) scale(0.978 1)" text-anchor="end" font-size="8.00" fill="#fff" font-weight="normal" dy="0.35em" opacity="0.85">VANILLIN</text><text transform="translate(594.60 471.90) rotate(245.286) translate(174.50 0) rotate(180) scale(0.910 1)" text-anchor="end" font-size="8.00" fill="#fff" font-weight="normal" dy="0.35em" opacity="0.85">OVERALL SWEET</text><text transform="translate(594.60 471.90) rotate(250.229) translate(174.50 0) rotate(180) scale(0.950 1)" text-anchor="end" font-size="8.00" fill="#fff" font-weight="normal" dy="0.35em" opacity="0.85">SWEET AROMATICS</text><text transform="translate(594.60 471.90) rotate(261.350) translate(47.00 0) rotate(180) scale(0.882 1)" text-anchor="end" font-size="13.00" fill="#fff" font-weight="normal" dy="0.35em">FLORAL</text><text transform="translate(594.60 471.90) rotate(255.172) translate(174.50 0) rotate(180) scale(0.939 1)" text-anchor="end" font-size="8.00" fill="#fff" font-weight="normal" dy="0.35em" opacity="0.85">BLACK TEA</text><text transform="translate(594.60 471.90) rotate(263.822) translate(174.50 0) rotate(180) scale(0.909 1)" text-anchor="end" font-size="8.00" fill="#fff" font-weight="normal" dy="0.35em" opacity="0.85">FLORAL</text><text transform="translate(594.60 471.90) rotate(259.703) translate(357.40 0) rotate(180) scale(0.970 1)" text-anchor="end" font-size="12.20" fill="#000" font-weight="bold" dy="0.35em">CHAMOMILE</text><text transform="translate(594.60 471.90) rotate(263.822) translate(357.40 0) rotate(180) scale(0.889 1)" text-anchor="end" font-size="12.20" fill="#000" font-weight="bold" dy="0.35em">ROSE</text><text transform="translate(594.60 471.90) rotate(267.941) translate(357.40 0) rotate(180) scale(0.933 1)" text-anchor="end" font-size="12.20" fill="#000" font-weight="bold" dy="0.35em">JASMINE</text></g></svg>
</body></html>
